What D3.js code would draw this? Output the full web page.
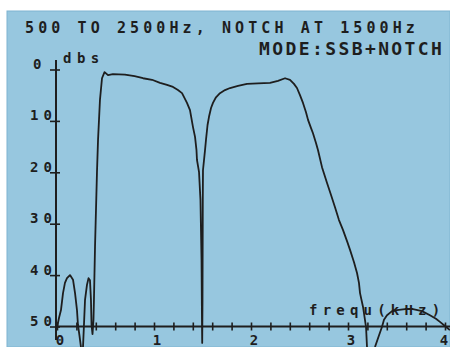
<!DOCTYPE html>
<html>
<head>
<meta charset="utf-8">
<script src="https://cdn.jsdelivr.net/npm/d3@7"></script>
<style>
  body { margin: 0; background: #fff; }
  text { font-family: "DejaVu Sans Mono", monospace; font-weight: bold; fill: #1e1e1e; }
</style>
</head>
<body>
<script>
// chart texts
var titleText = "500 TO 2500Hz, NOTCH AT 1500Hz";
var modeText = "MODE:SSB+NOTCH";
var yLabel = "dbs";
var xLabel = "frequ(kHz)";

// tick values
var yTicks = [0, 10, 20, 30, 40, 50];
var xMinorTicks = d3.range(0, 21).map(function(i) { return i / 5; });
var xLabels = [0, 1, 2, 3, 4];

// response curves (freq in kHz, attenuation in dB)
var lobeLowF = [0.0, 0.021, 0.041, 0.062, 0.082, 0.103, 0.134, 0.165, 0.186, 0.206, 0.216, 0.232, 0.247];
var lobeLowDb = [50.2, 48.3, 46.8, 43.5, 41.5, 40.6, 40.0, 40.9, 43.5, 46.8, 49.7, 51.8, 54.0];

var mainF = [0.268, 0.278, 0.289, 0.309, 0.325, 0.34, 0.35, 0.356, 0.366, 0.376,
  0.381, 0.392, 0.412, 0.423, 0.443, 0.464, 0.49, 0.526, 0.577, 0.70, 0.80, 0.887, 0.98,
  1.062, 1.134, 1.196, 1.247, 1.289, 1.34, 1.371, 1.402, 1.423, 1.438, 1.443, 1.464,
  1.479, 1.49, 1.495, 1.497, 1.50, 1.503, 1.505, 1.526, 1.536, 1.552, 1.567, 1.588,
  1.608, 1.639, 1.68, 1.732, 1.784, 1.866, 1.959, 2.072, 2.196, 2.278, 2.351, 2.402,
  2.443, 2.474, 2.505, 2.536, 2.567, 2.588, 2.619, 2.639, 2.67, 2.691, 2.732, 2.784,
  2.825, 2.866, 2.907, 2.948, 2.99, 3.021, 3.062, 3.093, 3.113, 3.124, 3.155, 3.186, 3.196];
var mainDb = [54.0, 49.7, 44.8, 41.9, 40.6, 41.0, 44.8, 49.7, 51.5, 48.7,
  44.8, 34.5, 20.1, 13.7, 5.9, 1.7, 0.5, 1.1, 0.9, 1.0, 1.3, 1.7, 2.0,
  2.6, 3.0, 3.4, 4.0, 4.6, 6.5, 7.9, 11.2, 13.1, 15.7, 17.6, 19.9,
  25.4, 37.1, 50.0, 53.2, 45.0, 25.4, 19.6, 15.7, 13.7, 10.8, 9.2, 7.5,
  6.5, 5.4, 4.6, 4.0, 3.6, 3.2, 2.8, 2.7, 2.6, 2.2, 1.7, 2.0,
  2.8, 3.6, 5.0, 6.5, 8.3, 9.8, 11.4, 12.4, 14.3, 15.7, 19.0, 22.1,
  24.4, 26.8, 29.3, 31.2, 33.4, 35.1, 37.5, 39.6, 41.5, 43.5, 46.2, 50.1, 54.0];

var lobeHighF = [3.278, 3.32, 3.35, 3.371, 3.402, 3.454, 3.505, 3.588, 3.67, 3.763, 3.845, 3.907, 3.948, 4.0, 4.05];
var lobeHighDb = [54.0, 51.7, 50.1, 48.7, 47.8, 47.0, 46.8, 46.6, 46.6, 47.0, 47.8, 48.5, 49.1, 49.9, 50.7];

var W = 450, H = 347;

var svg = d3.select("body").append("svg")
    .attr("width", W)
    .attr("height", H);

// blue screen panel
svg.append("rect")
    .attr("x", 7).attr("y", 11)
    .attr("width", W - 7).attr("height", H - 11)
    .style("fill", "#97c7df")
    .style("stroke", "#7fb4d1")
    .style("stroke-width", 1);

var x = d3.scaleLinear().domain([0, 4]).range([57, 445]);
var y = d3.scaleLinear().domain([0, 50]).range([69.5, 326.5]);

// headings
svg.append("text")
    .attr("x", 25).attr("y", 33)
    .style("font-size", "15px")
    .style("letter-spacing", "4.1px")
    .text(titleText);

svg.append("text")
    .attr("x", 259).attr("y", 55)
    .style("font-size", "18px")
    .style("letter-spacing", "2.4px")
    .text(modeText);

// y axis, cross shaped ticks
var yAxis = svg.append("g")
    .attr("transform", "translate(" + 56 + ",0)")
    .call(d3.axisLeft(y).tickValues(yTicks).tickSize(6).tickFormat(d3.format("d")));
yAxis.select(".domain").remove();
yAxis.selectAll(".tick line")
    .attr("x1", 4)
    .style("stroke", "#1e1e1e").style("stroke-width", 1.6);
yAxis.selectAll(".tick text")
    .attr("text-anchor", "start")
    .attr("x", function(d) { return d === 0 ? -23 : -26; })
    .attr("dy", "-1px")
    .style("font-size", "14px")
    .style("letter-spacing", "5px");

svg.append("line")
    .attr("x1", 56).attr("x2", 56)
    .attr("y1", 60).attr("y2", 340)
    .style("stroke", "#1e1e1e").style("stroke-width", 2);

svg.append("text")
    .attr("x", 63).attr("y", 63)
    .style("font-size", "14px")
    .style("letter-spacing", "5.5px")
    .text(yLabel);

// x axis, minor ticks every 0.2 kHz
var xAxis = svg.append("g")
    .attr("transform", "translate(0," + y(50) + ")")
    .call(d3.axisBottom(x).tickValues(xMinorTicks).tickSize(4).tickFormat(""));
xAxis.select(".domain").remove();
xAxis.selectAll(".tick line")
    .attr("y1", -4)
    .style("stroke", "#1e1e1e").style("stroke-width", 1.6);

svg.append("line")
    .attr("x1", 55).attr("x2", W)
    .attr("y1", y(50)).attr("y2", y(50))
    .style("stroke", "#1e1e1e").style("stroke-width", 2.2);

svg.append("g").selectAll("text")
    .data(xLabels)
    .enter()
    .append("text")
      .attr("x", function(d) { return d === 4 ? x(d) - 1 : x(d) + 3; })
      .attr("y", 345)
      .attr("text-anchor", "middle")
      .style("font-size", "14px")
      .text(function(d) { return d; });

svg.append("text")
    .attr("x", 309).attr("y", 315)
    .style("font-size", "14px")
    .style("letter-spacing", "5.2px")
    .text(xLabel);

// response traces
var line = d3.line()
    .x(function(d) { return x(d[0]); })
    .y(function(d) { return y(d[1]); });

var traces = [
  d3.zip(lobeLowF, lobeLowDb),
  d3.zip(mainF, mainDb),
  d3.zip(lobeHighF, lobeHighDb)
];

svg.append("clipPath").attr("id", "panel")
  .append("rect").attr("x", 7).attr("y", 11).attr("width", W - 7).attr("height", H - 11);

svg.append("g")
    .attr("clip-path", "url(#panel)")
  .selectAll("path")
    .data(traces)
    .enter()
    .append("path")
      .attr("d", line)
      .style("fill", "none")
      .style("stroke", "#1e1e1e")
      .style("stroke-width", 1.8)
      .style("stroke-linejoin", "round");
</script>
</body>
</html>
